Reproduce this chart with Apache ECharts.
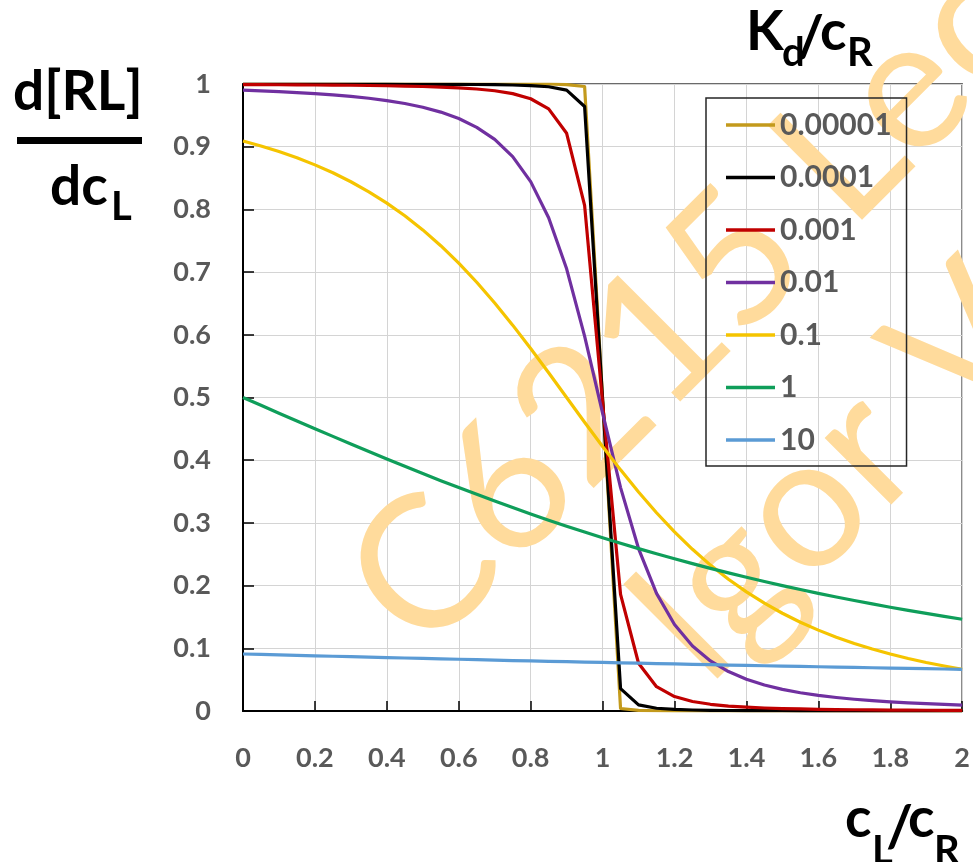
<!DOCTYPE html>
<html>
<head>
<meta charset="utf-8">
<script src="https://cdn.jsdelivr.net/npm/echarts@6/dist/echarts.min.js"></script>
<style>
  html, body { margin: 0; padding: 0; background: #ffffff; }
  #chart { width: 973px; height: 862px; }
</style>
</head>
<body>
<div id="chart"></div>
<script>
// Ligand-to-receptor ratio c_L/c_R (shared x values of every curve)
const cRatio = [0, 0.05, 0.1, 0.15, 0.2, 0.25, 0.3, 0.35, 0.4, 0.45, 0.5, 0.55, 0.6, 0.65, 0.7, 0.75, 0.8, 0.85, 0.9, 0.95,
  1, 1.05, 1.1, 1.15, 1.2, 1.25, 1.3, 1.35, 1.4, 1.45, 1.5, 1.55, 1.6, 1.65, 1.7, 1.75, 1.8, 1.85, 1.9, 1.95, 2];

// Kd/cR values shown in the legend
const kdLabels = ['0.00001', '0.0001', '0.001', '0.01', '0.1', '1', '10'];

// d[RL]/dcL for each Kd/cR
const kd00001 = [1, 1, 1, 1, 1, 1, 1, 1, 1, 1, 1, 1, 1, 1, 1, 1, 1, 1, 0.999, 0.996,
  0.499, 0.004, 0.001, 0.0004, 0.0003, 0.0002, 0.0002, 0.0001, 0.0001, 0.0001, 0.0001, 0.0001, 0.0001, 0.0001, 0, 0, 0, 0, 0, 0, 0];
const kd0001 = [0.9999, 0.9999, 0.9999, 0.9998, 0.9998, 0.9998, 0.9998, 0.9997, 0.9997, 0.9996, 0.9996, 0.9995, 0.9994, 0.9992, 0.9989, 0.9984, 0.9975, 0.9956, 0.9903, 0.9641,
  0.4975, 0.0356, 0.0097, 0.0044, 0.0025, 0.0016, 0.0011, 0.0008, 0.0006, 0.0005, 0.0004, 0.0003, 0.0003, 0.0002, 0.0002, 0.0002, 0.0002, 0.0001, 0.0001, 0.0001, 0.0001];
const kd001 = [0.9990, 0.9989, 0.9988, 0.9986, 0.9984, 0.9982, 0.9980, 0.9976, 0.9972, 0.9967, 0.9960, 0.9951, 0.9938, 0.9920, 0.9892, 0.9846, 0.9765, 0.9603, 0.9214, 0.8063,
  0.4921, 0.1861, 0.0762, 0.0388, 0.0230, 0.0151, 0.0107, 0.0079, 0.0061, 0.0048, 0.0039, 0.0033, 0.0027, 0.0023, 0.0020, 0.0018, 0.0015, 0.0014, 0.0012, 0.0011, 0.0010];
const kd01 = [0.9901, 0.9891, 0.9878, 0.9864, 0.9847, 0.9827, 0.9802, 0.9773, 0.9735, 0.9689, 0.9630, 0.9552, 0.9449, 0.9309, 0.9116, 0.8841, 0.8443, 0.7868, 0.7052, 0.5980,
  0.4750, 0.3563, 0.2591, 0.1876, 0.1379, 0.1037, 0.0798, 0.0629, 0.0506, 0.0415, 0.0345, 0.0291, 0.0249, 0.0215, 0.0187, 0.0165, 0.0146, 0.0130, 0.0117, 0.0105, 0.0095];
const kd1e_1 = [0.9091, 0.9011, 0.8922, 0.8822, 0.8710, 0.8584, 0.8441, 0.8281, 0.8101, 0.7899, 0.7673, 0.7421, 0.7143, 0.6838, 0.6508, 0.6154, 0.5781, 0.5394, 0.5000, 0.4606,
  0.4219, 0.3846, 0.3492, 0.3162, 0.2857, 0.2579, 0.2327, 0.2101, 0.1899, 0.1719, 0.1559, 0.1416, 0.1290, 0.1178, 0.1078, 0.0989, 0.0909, 0.0838, 0.0774, 0.0717, 0.0665];
const kd1 = [0.5000, 0.4875, 0.4750, 0.4626, 0.4502, 0.4380, 0.4258, 0.4138, 0.4019, 0.3902, 0.3787, 0.3674, 0.3563, 0.3455, 0.3348, 0.3244, 0.3143, 0.3044, 0.2948, 0.2855,
  0.2764, 0.2676, 0.2590, 0.2508, 0.2428, 0.2350, 0.2275, 0.2203, 0.2133, 0.2065, 0.2000, 0.1937, 0.1877, 0.1818, 0.1762, 0.1708, 0.1655, 0.1605, 0.1556, 0.1510, 0.1464];
const kd10 = [0.0909, 0.0902, 0.0894, 0.0887, 0.0880, 0.0873, 0.0866, 0.0858, 0.0852, 0.0845, 0.0838, 0.0831, 0.0825, 0.0818, 0.0812, 0.0805, 0.0799, 0.0793, 0.0786, 0.0780,
  0.0774, 0.0768, 0.0762, 0.0756, 0.0751, 0.0745, 0.0739, 0.0733, 0.0728, 0.0722, 0.0717, 0.0712, 0.0706, 0.0701, 0.0696, 0.0690, 0.0685, 0.0680, 0.0675, 0.0670, 0.0665];

const curves = [kd00001, kd0001, kd001, kd01, kd1e_1, kd1, kd10];
const curveColors = ['#c39a1c', '#000000', '#c00000', '#7030a0', '#f5c400', '#0f9e5a', '#5b9bd5'];

const FONT = 'Lato, "Open Sans", sans-serif';
const LABEL_GREY = '#595959';

const chart = echarts.init(document.getElementById('chart'), null, { renderer: 'canvas' });

const series = curves.map((vals, i) => ({
  name: kdLabels[i],
  type: 'line',
  color: curveColors[i],
  showSymbol: false,
  symbol: 'none',
  smooth: false,
  lineStyle: { width: 3.2, color: curveColors[i], join: 'round' },
  data: cRatio.map((x, j) => [x, vals[j]]),
  z: 2 + i * 0.01
}));

// Text pieces for the axis titles (main glyphs + subscripts)
function txt(text, x, y, size, z) {
  return {
    type: 'text', x: x, y: y, z: z || 10,
    style: { text: text, font: 'bold ' + size + 'px ' + FONT, fill: '#000000', align: 'left', verticalAlign: 'middle' }
  };
}

const graphics = [
  // y title: d[RL] / dc_L
  txt('d[RL]', 13, 92, 55),
  { type: 'rect', z: 10, shape: { x: 17, y: 137, width: 125, height: 7 }, style: { fill: '#000000' } },
  txt('dc', 50, 187, 55),
  txt('L', 111, 207, 40),
  // legend title: K_d / c_R
  txt('K', 746, 32, 55),
  txt('d', 782, 53, 40),
  txt('/', 797, 38, 58),
  txt('c', 820, 32, 55),
  txt('R', 847, 53, 40),
  // x title: c_L / c_R
  txt('c', 845, 819, 55),
  txt('L', 872, 851, 40),
  txt('/', 886, 828, 58),
  txt('c', 908, 819, 55),
  txt('R', 934, 851, 40),
  // diagonal watermark
  {
    type: 'text', x: 381, y: 616, rotation: Math.PI / 4, z: 1, silent: true,
    style: { text: 'C6215 Lec', font: '186px ' + FONT, fill: '#ffdb9c', align: 'left', verticalAlign: 'middle' }
  },
  {
    type: 'text', x: 663, y: 648, rotation: Math.PI / 4, z: 1, silent: true,
    style: { text: 'Igor V', font: '186px ' + FONT, fill: '#ffdb9c', align: 'left', verticalAlign: 'middle' }
  }
];

const axisLabelStyle = { fontFamily: FONT, fontWeight: 'bold', fontSize: 27, color: LABEL_GREY };

chart.setOption({
  animation: false,
  backgroundColor: '#ffffff',
  grid: {
    left: 243, right: 10, top: 84, bottom: 151,
    show: true, borderColor: '#3a3a3a', borderWidth: 1.5, backgroundColor: 'transparent'
  },
  legend: {
    orient: 'vertical',
    left: 706, top: 98,
    padding: [12, 15, 11, 20],
    itemGap: 22.5,
    itemWidth: 49, itemHeight: 3.5,
    icon: 'rect',
    borderColor: '#262626', borderWidth: 1.5,
    backgroundColor: 'transparent',
    textStyle: { fontFamily: FONT, fontWeight: 'bold', fontSize: 30, lineHeight: 30, color: LABEL_GREY },
    data: kdLabels,
    z: 5
  },
  xAxis: {
    type: 'value', min: 0, max: 2, interval: 0.2,
    axisLine: { lineStyle: { color: '#000000', width: 2 } },
    axisTick: { inside: true, length: 10, lineStyle: { color: '#000000', width: 1.5 } },
    axisLabel: Object.assign({ margin: 34, showMinLabel: true, showMaxLabel: true }, axisLabelStyle),
    splitLine: { show: true, lineStyle: { color: '#d4d4d4', width: 1 } }
  },
  yAxis: {
    type: 'value', min: 0, max: 1, interval: 0.1,
    axisLine: { show: true, lineStyle: { color: '#000000', width: 2 } },
    axisTick: { show: true, inside: true, length: 11, lineStyle: { color: '#000000', width: 1.5 } },
    axisLabel: Object.assign({ margin: 32, showMinLabel: true, showMaxLabel: true }, axisLabelStyle),
    splitLine: { show: true, lineStyle: { color: '#d4d4d4', width: 1 } }
  },
  graphic: graphics,
  series: series
});
</script>
</body>
</html>
